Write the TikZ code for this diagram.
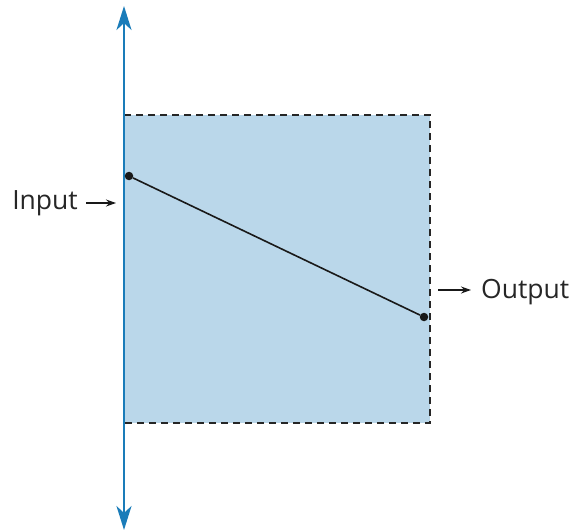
\documentclass[tikz,border=0pt]{standalone}
\usepackage{fontspec}
\setmainfont{Open Sans}
\usetikzlibrary{arrows.meta}
\definecolor{axisblue}{HTML}{1A7CB9}
\definecolor{boxblue}{HTML}{BAD7EA}
\begin{document}
\begin{tikzpicture}[x={(1pt,0pt)},y={(0pt,-1pt)},
  dot/.style={circle,fill=black!90,inner sep=0pt,minimum size=8.5pt},
  lbl/.style={font=\fontsize{26.5}{30}\selectfont,text=black!85,inner sep=0pt},
  pointer/.style={-{Stealth[length=10pt,width=7pt]},line width=1.3pt,black!90}]
\useasboundingbox (0,0) rectangle (573,532);
% box
\fill[boxblue] (124,115) rectangle (430,423);
\draw[black!85,line width=1.8pt,dash pattern=on 7pt off 5pt] (124,115) -- (430,115) -- (430,423) -- (124,423);
% axis
\coordinate (top) at (124,6);
\coordinate (bottom) at (124,530);
\draw[axisblue,line width=2.6pt,{Stealth[length=24pt,width=15pt,inset=7pt]}-{Stealth[length=24pt,width=15pt,inset=7pt]}] (top) -- (bottom);
% points
\node[dot] (in) at (129,176) {};
\node[dot] (out) at (424,317) {};
\draw[black!90,line width=1.6pt] (in) -- (out);
% labels
\node[lbl,anchor=east] (input) at (78,203) {Input};
\coordinate (inend) at (116,203);
\draw[pointer] (input.east) ++(8,0) -- (inend);
\node[lbl,anchor=west] (output) at (481,292.5) {Output};
\coordinate (outstart) at (438,290);
\draw[pointer] (outstart) -- ([xshift=-10pt,yshift=2.5pt]output.west);
\end{tikzpicture}
\end{document}
